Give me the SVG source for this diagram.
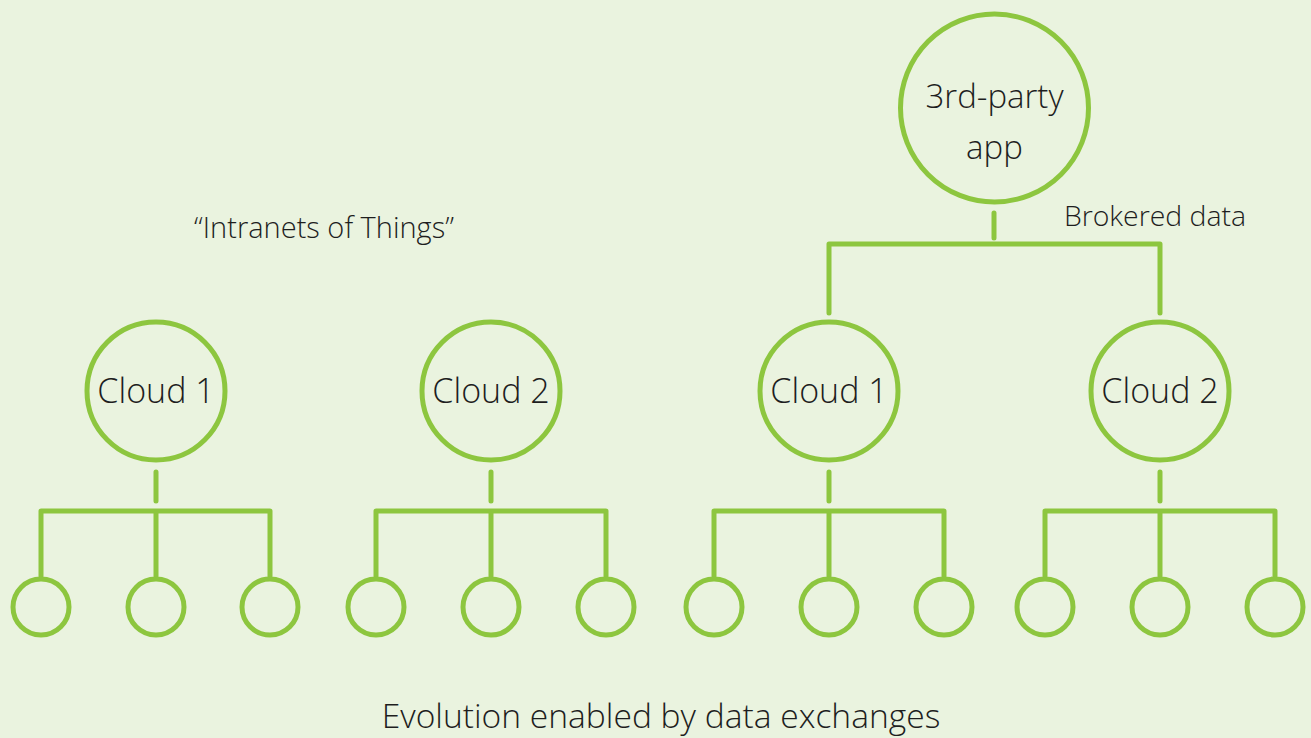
<svg xmlns="http://www.w3.org/2000/svg" width="1311" height="738" viewBox="0 0 1311 738">
<style>
.n{fill:none;stroke:#8DC63F;stroke-width:5}
.c{fill:none;stroke:#8DC63F;stroke-width:5;stroke-linecap:round;stroke-linejoin:round}
text{font-family:"Open Sans","Noto Sans","Liberation Sans",sans-serif;font-weight:300;fill:#1e1e1e;text-anchor:middle}
</style>
<rect width="1311" height="738" fill="#EAF3DF"/>
<g id="connectors">
<path class="c" d="M156 472V501M41 576V511H270V576M156 511V576"/>
<path class="c" d="M491 472V501M376 576V511H606V576M491 511V576"/>
<path class="c" d="M829 472V501M714 576V511H944V576M829 511V576"/>
<path class="c" d="M1160 472V501M1045 576V511H1275V576M1160 511V576"/>
<path class="c" d="M994 213V238M829 313V244H1160V313"/>
</g>
<g id="app"><circle class="n" cx="994.5" cy="108" r="94"/><text x="994.5" y="108" font-size="33">3rd-party</text><text x="994.5" y="159" font-size="33">app</text></g>
<g id="cloud1a"><circle class="n" cx="156" cy="391" r="69"/><text x="156" y="403" font-size="34">Cloud 1</text></g>
<g id="cloud2a"><circle class="n" cx="491" cy="391" r="69"/><text x="491" y="403" font-size="34">Cloud 2</text></g>
<g id="cloud1b"><circle class="n" cx="829" cy="391" r="69"/><text x="829" y="403" font-size="34">Cloud 1</text></g>
<g id="cloud2b"><circle class="n" cx="1160" cy="391" r="69"/><text x="1160" y="403" font-size="34">Cloud 2</text></g>
<g id="d1"><circle class="n" cx="41" cy="607" r="28"/></g>
<g id="d2"><circle class="n" cx="156" cy="607" r="28"/></g>
<g id="d3"><circle class="n" cx="270" cy="607" r="28"/></g>
<g id="d4"><circle class="n" cx="376" cy="607" r="28"/></g>
<g id="d5"><circle class="n" cx="491" cy="607" r="28"/></g>
<g id="d6"><circle class="n" cx="606" cy="607" r="28"/></g>
<g id="d7"><circle class="n" cx="714" cy="607" r="28"/></g>
<g id="d8"><circle class="n" cx="829" cy="607" r="28"/></g>
<g id="d9"><circle class="n" cx="944" cy="607" r="28"/></g>
<g id="d10"><circle class="n" cx="1045" cy="607" r="28"/></g>
<g id="d11"><circle class="n" cx="1160" cy="607" r="28"/></g>
<g id="d12"><circle class="n" cx="1275" cy="607" r="28"/></g>
<text x="1155" y="226" font-size="28.4">Brokered data</text>
<text x="324" y="238" font-size="29">“Intranets of Things”</text>
<text x="661" y="728" font-size="33.6">Evolution enabled by data exchanges</text>
</svg>
